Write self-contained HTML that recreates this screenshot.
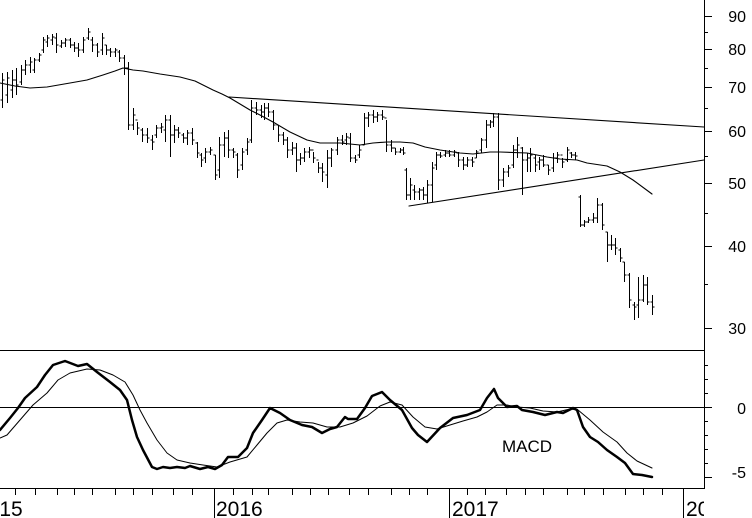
<!DOCTYPE html>
<html><head><meta charset="utf-8"><style>
html,body{margin:0;padding:0;background:#fff;}
svg{display:block;}
text{font-family:"Liberation Sans",Arial,sans-serif;fill:#000;}
</style></head><body>
<svg width="752" height="518" viewBox="0 0 752 518" xmlns="http://www.w3.org/2000/svg">
<defs><clipPath id="c"><rect x="0" y="0" width="704" height="518"/></clipPath></defs>
<rect width="752" height="518" fill="#fff"/>
<g stroke="#000" fill="none" stroke-width="1" shape-rendering="crispEdges">
<!-- axes -->
<path d="M704.5 0V489M0 488.5H704.5"/>
<path d="M0 350.5H704M0 407.5H704"/>
<!-- price ticks -->
<path d="M704 16.5H712M704 32.5H708M704 49.5H712M704 68.5H708M704 87.5H712M704 108.5H708M704 131.5H712M704 156.5H708M704 183.5H712M704 213.5H708M704 246.5H712M704 284.5H708M704 328.5H712"/>
<!-- macd ticks -->
<path d="M704 365.5H708M704 379.5H708M704 393.5H708M704 407.5H712M704 421.5H708M704 435.5H708M704 449.5H708M704 463.5H708M704 477.5H712"/>
<!-- x ticks -->
<path d="M214.5 488V518M449.5 488V518M683.5 488V518"/>
<path d="M15.5 488V495M35.5 488V495M57.5 488V495M74.5 488V495M92.5 488V495M115.5 488V495M133.5 488V495M152.5 488V495M173.5 488V495M192.5 488V495M233.5 488V495M252.5 488V495M268.5 488V495M292.5 488V495M310.5 488V495M328.5 488V495M349.5 488V495M368.5 488V495M391.5 488V495M409.5 488V495M427.5 488V495M467.5 488V495M485.5 488V495M506.5 488V495M525.5 488V495M543.5 488V495M567.5 488V495M584.5 488V495M603.5 488V495M625.5 488V495M643.5 488V495M662.5 488V495"/>
<!-- bars -->
<path d="M2.5 73V108M0.5 100H2.5M2.5 80H4.5M7.5 72V103M5.5 95H7.5M7.5 78H9.5M12.5 70V98M10.5 90H12.5M12.5 80H14.5M16.5 68V95M14.5 80H16.5M16.5 85H18.5M21.5 65V85M19.5 82H21.5M21.5 70H23.5M25.5 60V75M23.5 70H25.5M25.5 65H27.5M30.5 57V73M28.5 65H30.5M30.5 62H32.5M34.5 58V73M32.5 70H34.5M34.5 60H36.5M39.5 53V62M37.5 60H39.5M39.5 55H41.5M43.5 37V53M41.5 50H43.5M43.5 40H45.5M47.5 35V47M45.5 42H47.5M47.5 38H49.5M52.5 34V45M50.5 40H52.5M52.5 37H54.5M56.5 33V53M54.5 38H56.5M56.5 45H58.5M61.5 40V48M59.5 46H61.5M61.5 43H63.5M65.5 38V47M63.5 43H65.5M65.5 40H67.5M70.5 38V48M68.5 40H70.5M70.5 45H72.5M74.5 42V52M72.5 45H74.5M74.5 48H76.5M78.5 43V57M76.5 48H78.5M78.5 50H80.5M83.5 37V53M81.5 50H83.5M83.5 40H85.5M88.5 28V40M86.5 38H88.5M88.5 32H90.5M92.5 37V52M90.5 40H92.5M92.5 45H94.5M97.5 43V57M95.5 45H97.5M97.5 52H99.5M102.5 33V55M100.5 50H102.5M102.5 38H104.5M106.5 45V55M104.5 45H106.5M106.5 50H108.5M110.5 48V57M108.5 50H110.5M110.5 52H112.5M115.5 48V57M113.5 52H115.5M115.5 50H117.5M119.5 50V62M117.5 52H119.5M119.5 58H121.5M124.5 55V75M122.5 58H124.5M124.5 68H126.5M128.5 62V130M126.5 68H128.5M128.5 125H130.5M133.5 108V130M131.5 125H133.5M133.5 115H135.5M137.5 122V135M135.5 120H137.5M137.5 128H139.5M142.5 128V142M140.5 130H142.5M142.5 135H144.5M147.5 128V143M145.5 135H147.5M147.5 138H149.5M152.5 135V150M150.5 140H152.5M152.5 142H154.5M156.5 125V138M154.5 135H156.5M156.5 128H158.5M161.5 123V133M159.5 128H161.5M161.5 127H163.5M165.5 115V142M163.5 130H165.5M165.5 120H167.5M170.5 115V157M168.5 120H170.5M170.5 135H172.5M174.5 125V143M172.5 135H174.5M174.5 130H176.5M178.5 127V138M176.5 130H178.5M178.5 133H180.5M183.5 133V143M181.5 135H183.5M183.5 138H185.5M187.5 130V145M185.5 138H187.5M187.5 133H189.5M192.5 128V145M190.5 133H192.5M192.5 140H194.5M197.5 142V158M195.5 143H197.5M197.5 153H199.5M201.5 153V167M199.5 155H201.5M201.5 160H203.5M205.5 148V163M203.5 158H205.5M205.5 152H207.5M210.5 147V155M208.5 152H210.5M210.5 150H212.5M215.5 155V180M213.5 155H215.5M215.5 175H217.5M219.5 137V178M217.5 170H219.5M219.5 145H221.5M224.5 132V157M222.5 145H224.5M224.5 138H226.5M228.5 130V158M226.5 138H228.5M228.5 150H230.5M233.5 148V158M231.5 150H233.5M233.5 152H235.5M237.5 153V178M235.5 155H237.5M237.5 170H239.5M242.5 148V170M240.5 165H242.5M242.5 152H244.5M247.5 138V155M245.5 150H247.5M247.5 142H249.5M251.5 100V143M249.5 140H251.5M251.5 108H253.5M256.5 102V115M254.5 108H256.5M256.5 110H258.5M261.5 105V118M259.5 110H261.5M261.5 112H263.5M264.5 103V120M262.5 112H264.5M264.5 108H266.5M268.5 103V117M266.5 108H268.5M268.5 112H270.5M273.5 110V130M271.5 112H273.5M273.5 125H275.5M278.5 125V142M276.5 125H278.5M278.5 135H280.5M283.5 132V145M281.5 135H283.5M283.5 140H285.5M287.5 137V158M285.5 140H287.5M287.5 150H289.5M292.5 142V155M290.5 150H292.5M292.5 148H294.5M296.5 143V172M294.5 148H296.5M296.5 160H298.5M300.5 153V165M298.5 160H300.5M300.5 158H302.5M304.5 148V162M302.5 158H304.5M304.5 152H306.5M309.5 147V158M307.5 152H309.5M309.5 150H311.5M313.5 152V163M311.5 150H313.5M313.5 158H315.5M318.5 162V173M316.5 160H318.5M318.5 168H320.5M322.5 163V182M320.5 168H322.5M322.5 172H324.5M327.5 150V188M325.5 175H327.5M327.5 158H329.5M331.5 148V167M329.5 158H331.5M331.5 150H333.5M337.5 137V155M335.5 150H337.5M337.5 140H339.5M342.5 135V145M340.5 140H342.5M342.5 142H344.5M346.5 133V145M344.5 140H346.5M346.5 137H348.5M350.5 133V162M348.5 138H350.5M350.5 158H352.5M355.5 155V163M353.5 158H355.5M355.5 160H357.5M359.5 145V158M357.5 155H359.5M359.5 150H361.5M364.5 113V145M362.5 145H364.5M364.5 118H366.5M368.5 112V127M366.5 118H368.5M368.5 115H370.5M373.5 110V123M371.5 115H373.5M373.5 117H375.5M377.5 112V122M375.5 117H377.5M377.5 115H379.5M382.5 110V120M380.5 115H382.5M382.5 117H384.5M386.5 120V152M384.5 118H386.5M386.5 145H388.5M391.5 140V152M389.5 145H391.5M391.5 148H393.5M395.5 148V155M393.5 148H395.5M395.5 152H397.5M400.5 148V153M398.5 152H400.5M400.5 150H402.5M403.5 147V155M401.5 150H403.5M403.5 153H405.5M406.5 168V200M404.5 170H406.5M406.5 195H408.5M410.5 178V200M408.5 195H410.5M410.5 185H412.5M414.5 185V200M412.5 190H414.5M414.5 192H416.5M419.5 188V200M417.5 192H419.5M419.5 190H421.5M423.5 187V200M421.5 190H423.5M423.5 195H425.5M427.5 180V203M425.5 195H427.5M427.5 185H429.5M432.5 162V202M430.5 185H432.5M432.5 168H434.5M436.5 152V170M434.5 165H436.5M436.5 155H438.5M440.5 152V158M438.5 155H440.5M440.5 156H442.5M445.5 150V157M443.5 155H445.5M445.5 153H447.5M449.5 150V157M447.5 153H449.5M449.5 155H451.5M454.5 150V157M452.5 155H454.5M454.5 152H456.5M458.5 152V167M456.5 153H458.5M458.5 160H460.5M463.5 157V170M461.5 160H463.5M463.5 165H465.5M467.5 157V167M465.5 165H467.5M467.5 160H469.5M472.5 157V167M470.5 160H472.5M472.5 162H474.5M476.5 150V158M474.5 158H476.5M476.5 152H478.5M481.5 138V153M479.5 150H481.5M481.5 140H483.5M486.5 120V148M484.5 140H486.5M486.5 125H488.5M490.5 120V128M488.5 125H490.5M490.5 122H492.5M493.5 113V127M491.5 122H493.5M493.5 117H495.5M498.5 113V190M496.5 117H498.5M498.5 180H500.5M503.5 168V187M501.5 180H503.5M503.5 172H505.5M508.5 165V177M506.5 172H508.5M508.5 168H510.5M513.5 145V168M511.5 165H513.5M513.5 150H515.5M517.5 137V158M515.5 150H517.5M517.5 145H519.5M522.5 147V195M520.5 148H522.5M522.5 160H524.5M527.5 153V172M525.5 160H527.5M527.5 158H529.5M530.5 148V172M528.5 158H530.5M530.5 155H532.5M535.5 155V172M533.5 158H535.5M535.5 165H537.5M539.5 157V170M537.5 162H539.5M539.5 160H541.5M543.5 155V167M541.5 160H543.5M543.5 165H545.5M548.5 165V175M546.5 165H548.5M548.5 170H550.5M553.5 153V172M551.5 168H553.5M553.5 158H555.5M557.5 152V163M555.5 158H557.5M557.5 155H559.5M562.5 158V168M560.5 155H562.5M562.5 162H564.5M567.5 147V162M565.5 160H567.5M567.5 150H569.5M571.5 152V158M569.5 153H571.5M571.5 155H573.5M575.5 152V160M573.5 155H575.5M575.5 156H577.5M580.5 195V227M578.5 197H580.5M580.5 225H582.5M584.5 220V227M582.5 225H584.5M584.5 222H586.5M588.5 217V223M586.5 222H588.5M588.5 220H590.5M593.5 213V223M591.5 220H593.5M593.5 218H595.5M597.5 198V223M595.5 218H597.5M597.5 205H599.5M602.5 203V230M600.5 205H602.5M602.5 225H604.5M607.5 232V262M605.5 232H607.5M607.5 245H609.5M611.5 235V250M609.5 245H611.5M611.5 245H613.5M615.5 238V255M613.5 245H615.5M615.5 248H617.5M620.5 248V262M618.5 250H620.5M620.5 258H622.5M624.5 262V282M622.5 262H624.5M624.5 275H626.5M629.5 273V308M627.5 275H629.5M629.5 300H631.5M634.5 302V320M632.5 305H634.5M634.5 307H636.5M638.5 277V318M636.5 305H638.5M638.5 300H640.5M643.5 275V302M641.5 300H643.5M643.5 285H645.5M647.5 277V305M645.5 285H647.5M647.5 302H649.5M652.5 295V315M650.5 302H652.5M652.5 307H654.5"/>
</g>
<g stroke="#000" fill="none" stroke-linejoin="round" stroke-linecap="round">
<!-- moving average -->
<path stroke-width="1.1" d="M0 83L15 86L30 88L47 87L70 83L87 80L103 75L115 71L123 68L133 70L143 71L160 74L180 77L195 81L205 86L213 90L222 94L230 98L240 104L250 110L260 115L273 122L290 132L307 140L320 143L340 143L360 145L373 143L387 142L400 142L413 143L425 147L440 150L460 153L473 154L490 152L500 152L527 153L547 157L560 159L577 160L587 163L607 166L620 172L633 180L652 194"/>
<!-- trendlines -->
<path stroke-width="1.1" d="M229 97L704 127M409 206L704 160"/>
<!-- MACD signal -->
<path stroke-width="1" d="M0 438L7 435L20 420L33 405L47 393L58 380L70 373L87 369L100 370L113 375L125 382L133 395L140 410L147 423L157 440L167 453L177 460L190 463L203 465L217 467L230 462L247 457L257 445L267 433L277 423L287 420L300 422L313 423L327 427L340 427L353 423L367 416L380 406L390 402L402 405L413 417L425 427L437 429L450 425L463 421L477 417L487 412L497 405L507 405L517 407L530 408L543 411L557 412L570 409L578 410L590 420L603 432L617 442L627 453L637 461L652 468"/>
<!-- MACD -->
<path stroke-width="2.5" d="M0 430L10 418L18 408L25 398L37 387L45 375L53 365L65 361L78 366L87 364L97 372L110 382L120 390L127 400L132 420L137 437L143 450L152 467L157 469L163 467L170 468L177 467L185 468L190 466L200 469L208 467L215 469L222 465L228 457L238 457L247 448L253 433L262 420L270 408L280 413L290 420L302 425L312 427L322 433L330 429L337 427L345 417L348 419L357 419L365 408L372 396L382 392L390 400L402 410L412 428L418 435L427 442L440 428L453 418L467 415L480 410L487 398L494 389L498 398L507 407L517 406L522 410L533 412L545 415L557 412L563 413L573 408L577 410L583 427L590 437L598 442L607 450L617 457L625 463L633 474L642 475L652 477"/>
</g>
<!-- labels -->
<g font-size="16" text-anchor="end">
<text x="746" y="22">90</text>
<text x="746" y="55">80</text>
<text x="746" y="93">70</text>
<text x="746" y="137">60</text>
<text x="746" y="189">50</text>
<text x="746" y="252">40</text>
<text x="746" y="334">30</text>
<text x="746" y="414">0</text>
<text x="746" y="478">-5</text>
</g>
<text x="502" y="452" font-size="17">MACD</text>
<g font-size="21" clip-path="url(#c)">
<text x="-24" y="516">2015</text>
<text x="216" y="516">2016</text>
<text x="452" y="516">2017</text>
<text x="686" y="516">2018</text>
</g>
</svg>
</body></html>
